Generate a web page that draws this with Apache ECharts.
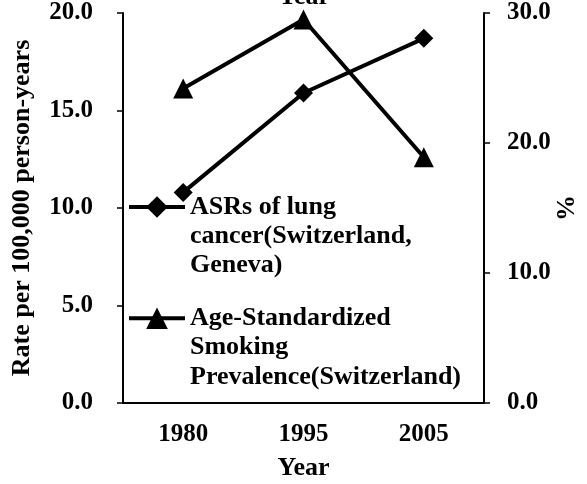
<!DOCTYPE html>
<html>
<head>
<meta charset="utf-8">
<script src="https://cdn.jsdelivr.net/npm/echarts@6/dist/echarts.min.js"></script>
<style>
html,body{margin:0;padding:0;background:#fff;}
#main{width:587px;height:484px;}
</style>
</head>
<body>
<div id="main"></div>
<script>
var years = ['1980', '1995', '2005'];
var lungCancer = [10.8, 15.9, 18.7];
var smoking = [24.2, 29.5, 18.9];
var leftTicks = [0, 5, 10, 15, 20];
var rightTicks = [0, 10, 20, 30];
var lungName = 'ASRs of lung\ncancer(Switzerland,\nGeneva)';
var smokeName = 'Age-Standardized\nSmoking\nPrevalence(Switzerland)';

var font = '"Liberation Serif", "Times New Roman", serif';
var lab = {color: '#000', fontFamily: font, fontWeight: 'bold', fontSize: 25};
var nameStyle = {color: '#000', fontFamily: font, fontWeight: 'bold', fontSize: 26};

// legend text block is centred on the icon, so pad two empty lines above
// to put the icon on the first line of the name
function legendText(name) {
	return '\n\n' + name;
}

var chart = echarts.init(document.getElementById('main'));

var option = {
	animation: false,
	backgroundColor: '#fff',
	title: {
		text: 'Year',
		left: 278,
		top: -16,
		padding: 0,
		textStyle: nameStyle
	},
	grid: {left: 123, right: 103, top: 13, bottom: 81, outerBoundsMode: 'none', containLabel: false},
	legend: [
		{
			data: [lungName],
			formatter: legendText,
			left: 127, top: 207 - 72.5, padding: 0,
			itemWidth: 56, itemHeight: 27,
			lineStyle: {width: 4},
			textStyle: {color: '#000', fontFamily: font, fontWeight: 'bold', fontSize: 26, lineHeight: 29}
		},
		{
			data: [smokeName],
			formatter: legendText,
			left: 127, top: 317 - 72.5, padding: 0,
			itemWidth: 56, itemHeight: 27,
			lineStyle: {width: 4},
			textStyle: {color: '#000', fontFamily: font, fontWeight: 'bold', fontSize: 26, lineHeight: 29.5}
		}
	],
	xAxis: {
		type: 'category',
		data: years,
		name: 'Year',
		nameLocation: 'middle',
		nameGap: 52,
		nameTextStyle: nameStyle,
		axisLine: {lineStyle: {color: '#000', width: 2}},
		axisTick: {alignWithLabel: true, length: 6, lineStyle: {color: '#000', width: 1.5}},
		axisLabel: Object.assign({margin: 19}, lab),
		splitLine: {show: false}
	},
	yAxis: [
		{
			type: 'value',
			min: leftTicks[0], max: leftTicks[leftTicks.length - 1], interval: 5,
			name: 'Rate per 100,000 person-years',
			nameLocation: 'middle',
			nameGap: 88,
			nameRotate: 90,
			nameTextStyle: nameStyle,
			axisLine: {show: true, lineStyle: {color: '#000', width: 2}},
			axisTick: {show: true, length: 6, lineStyle: {color: '#000', width: 1.5}},
			axisLabel: Object.assign({margin: 30, formatter: function (v) { return v.toFixed(1); }}, lab),
			splitLine: {show: false}
		},
		{
			type: 'value',
			position: 'right',
			min: rightTicks[0], max: rightTicks[rightTicks.length - 1], interval: 10,
			name: '%',
			nameLocation: 'middle',
			nameGap: 70,
			nameMoveOverlap: false,
			nameRotate: 90,
			nameTextStyle: nameStyle,
			axisLine: {show: true, lineStyle: {color: '#000', width: 2}},
			axisTick: {show: true, length: 6, lineStyle: {color: '#000', width: 1.5}},
			axisLabel: Object.assign({margin: 23, formatter: function (v) { return v.toFixed(1); }}, lab),
			splitLine: {show: false}
		}
	],
	series: [
		{
			name: lungName,
			type: 'line',
			yAxisIndex: 0,
			data: lungCancer,
			symbol: 'diamond',
			symbolSize: 19,
			color: '#000',
			lineStyle: {color: '#000', width: 4},
			itemStyle: {color: '#000'}
		},
		{
			name: smokeName,
			type: 'line',
			yAxisIndex: 1,
			data: smoking,
			symbol: 'triangle',
			symbolSize: 20,
			color: '#000',
			lineStyle: {color: '#000', width: 4},
			itemStyle: {color: '#000'}
		}
	]
};

chart.setOption(option);
</script>
</body>
</html>
